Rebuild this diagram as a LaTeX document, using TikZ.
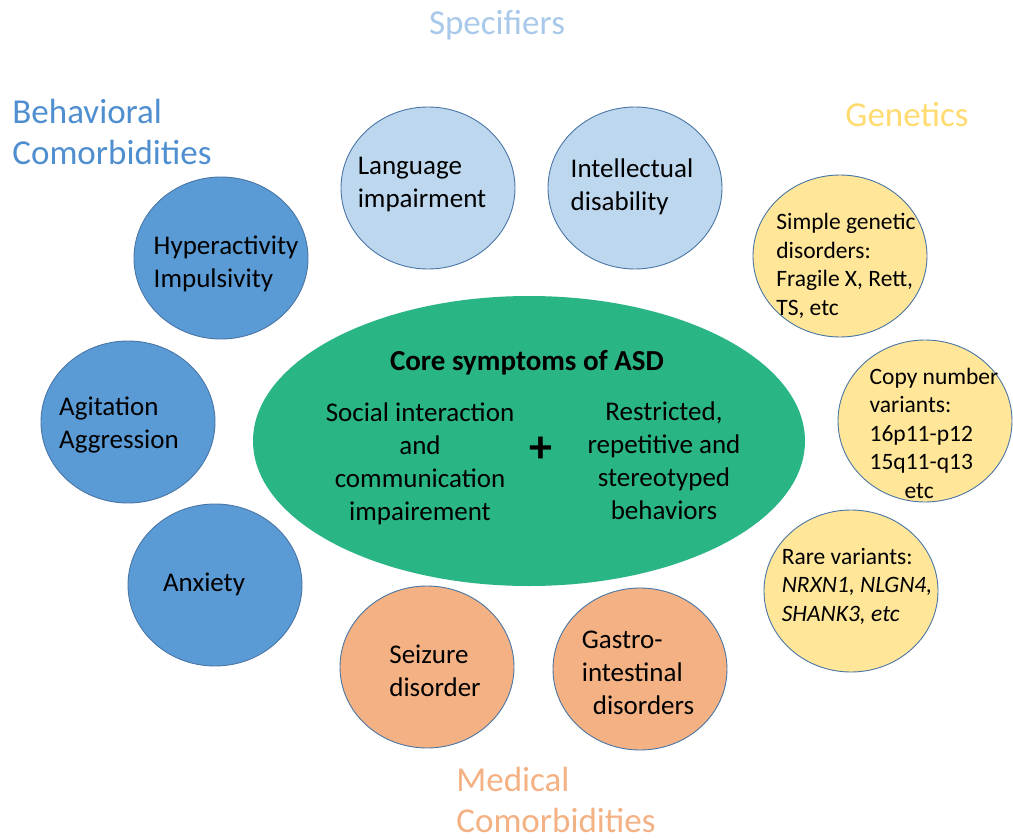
\documentclass[tikz,border=0pt]{standalone}
\usepackage{fontspec}
\setmainfont{Carlito}
\usetikzlibrary{shapes.geometric}
\definecolor{darkblue}{HTML}{5B9BD5}
\definecolor{lightblue}{HTML}{BDD7EE}
\definecolor{paleyellow}{HTML}{FFE699}
\definecolor{paleorange}{HTML}{F4B183}
\definecolor{coregreen}{HTML}{2AB584}
\definecolor{rimblue}{HTML}{4A76A6}
\definecolor{headblue}{HTML}{4F8FCF}
\definecolor{headlight}{HTML}{A9C9EA}
\definecolor{headgold}{HTML}{FFDB70}
\definecolor{headorange}{HTML}{F4B183}
\tikzset{
  bubble/.style={ellipse, draw=rimblue, line width=0.9pt, minimum width=174pt, minimum height=162pt, inner sep=0pt},
  behav/.style={bubble, fill=darkblue},
  spec/.style={bubble, fill=lightblue},
  gene/.style={bubble, fill=paleyellow},
  medic/.style={bubble, fill=paleorange},
  txt/.style={align=left, inner sep=0pt, font=\fontsize{27}{33}\selectfont},
  smalltxt/.style={align=left, inner sep=0pt, font=\fontsize{23.5}{28.5}\selectfont},
  heading/.style={align=left, inner sep=0pt, font=\fontsize{35}{41}\selectfont},
}
\begin{document}
\begin{tikzpicture}[x=1pt,y=-1pt]
\useasboundingbox[fill=white] (0,0) rectangle (1013,840);

% central ellipse
\node[ellipse, fill=coregreen, minimum width=552pt, minimum height=290pt, inner sep=0pt] (core) at (529,441) {};
\node[inner sep=0pt, font=\fontsize{29}{34}\selectfont\bfseries] (coretitle) at (527,363) {Core symptoms of ASD};
\node[txt, align=center] (social) at (420,464) {Social interaction\\and\\communication\\impairement};
\node[inner sep=0pt, font=\fontsize{46}{46}\selectfont\bfseries] (plus) at (541,450) {+};
\node[txt, align=center] (restricted) at (664,461) {Restricted,\\repetitive and\\stereotyped\\behaviors};

% behavioral comorbidities
\node[behav] (hyp) at (221,258) {};
\node[txt] (hyptxt) at (226,264) {Hyperactivity\\Impulsivity};
\node[behav] (agi) at (128,422) {};
\node[txt] (agitxt) at (119,425) {Agitation\\Aggression};
\node[behav] (anx) at (215,585) {};
\node[txt] (anxtxt) at (204,584) {Anxiety};

% specifiers
\node[spec] (lang) at (428,188) {};
\node[txt] (langtxt) at (422,185) {Language\\impairment};
\node[spec] (intel) at (635,188) {};
\node[txt] (inteltxt) at (632,187) {Intellectual\\disability};

% medical comorbidities
\node[medic] (seiz) at (427,667) {};
\node[txt] (seiztxt) at (435,671) {Seizure\\disorder};
\node[medic] (gastro) at (640,669) {};
\node[txt] (gastrotxt) at (638,673) {Gastro-\\intestinal\\\hspace*{11pt}disorders};

% genetics
\node[gene] (simple) at (840,256) {};
\node[smalltxt] (simpletxt) at (846,266) {Simple genetic\\disorders:\\Fragile X, Rett,\\TS, etc};
\node[gene] (copy) at (925,421) {};
\node[smalltxt] (copytxt) at (934,433) {Copy number\\variants:\\16p11-p12\\15q11-q13\\\hspace*{35pt}etc};
\node[gene] (rare) at (851,591) {};
\node[smalltxt] (raretxt) at (857,586) {Rare variants:\\\textit{NRXN1, NLGN4,}\\\textit{SHANK3, etc}};

% group headings
\node[heading, text=headlight] (hspec) at (497,25) {Specifiers};
\node[heading, text=headblue] (hbehav) at (112,132) {Behavioral\\Comorbidities};
\node[heading, text=headgold] (hgene) at (907,115) {Genetics};
\node[heading, text=headorange] (hmedic) at (556,800) {Medical\\Comorbidities};
\end{tikzpicture}
\end{document}
